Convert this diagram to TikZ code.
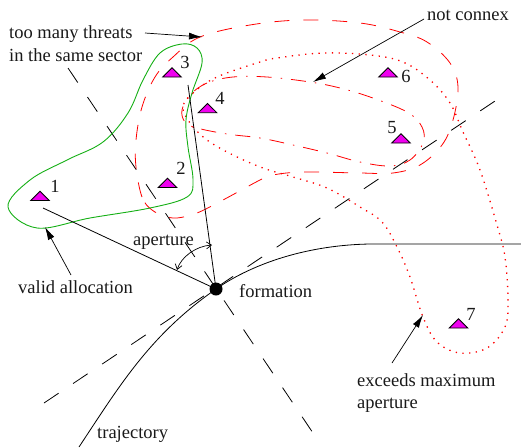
\documentclass[tikz,border=0pt]{standalone}
\usepackage{fontspec}
\setmainfont{Liberation Serif}
\usetikzlibrary{arrows.meta}
\definecolor{greenline}{RGB}{20,175,20}
\definecolor{threatfill}{RGB}{240,0,240}
\tikzset{
  lbl/.style={anchor=base west,inner sep=0pt,font=\fontsize{18.5}{21}\selectfont,text=black!90},
  num/.style={anchor=center,inner sep=0pt,font=\fontsize{18.5}{21}\selectfont,text=black!90},
  solidline/.style={draw=black,line width=0.8pt},
  sector/.style={draw=black,line width=0.8pt,dash pattern=on 17.5pt off 17.5pt},
  greenblob/.style={draw=greenline,line width=0.9pt},
  reddash/.style={draw=red,line width=0.8pt,dash pattern=on 15pt off 14pt},
  reddashdot/.style={draw=red,line width=0.8pt,dash pattern=on 15pt off 9pt on 1.5pt off 9pt},
  reddot/.style={draw=red,line width=1.3pt,dash pattern=on 1.3pt off 5.4pt},
  callout/.style={draw=black,line width=0.7pt,-{Latex[length=13pt,width=7pt]}},
  openarrow/.style={draw=black,line width=0.7pt,{Straight Barb[length=5pt,width=7pt]}-{Straight Barb[length=5pt,width=7pt]}},
  threat/.style={draw=black,fill=threatfill,line width=0.8pt,line join=miter},
}
\newcommand{\threatmark}[4]{%
  \coordinate (t#1) at (#2,#3);
  \draw[threat] (#2-9.3,#3) -- (#2,#3-9.2) -- (#2+9.3,#3) -- cycle;
  \node[num] (n#1) at #4 {#1};
}
\begin{document}
\begin{tikzpicture}[x=1pt,y=-1pt]
\useasboundingbox (0,0) rectangle (521,447);
\coordinate (S1a) at (68,68);
\coordinate (S1b) at (313,433);
\coordinate (S2a) at (44,403);
\coordinate (S2b) at (498,99);
\path[sector] (S1a) -- (S1b);
\path[sector] (S2a) -- (S2b);
% regions
\draw[reddash] plot[smooth cycle,tension=0.6] coordinates {(152,210) (142,197) (136,167) (136,140) (142,107) (155,77) (173,57) (200,37) (250,25) (303,20) (360,23) (400,32) (427,42) (450,63) (458,87) (453,120) (442,145) (420,165) (393,173) (360,173) (303,172) (273,175) (260,180) (223,200) (197,213) (177,218) (165,216)};
\draw[reddashdot] plot[smooth cycle,tension=0.6] coordinates {(233,77) (207,83) (190,95) (182,110) (185,122) (197,128) (227,134) (260,138) (293,145) (327,153) (360,162) (390,166) (410,160) (423,143) (422,127) (407,112) (370,97) (340,88) (310,82) (267,77)};
\draw[reddot] plot[smooth cycle,tension=0.6] coordinates {(217,77) (193,93) (183,107) (190,123) (207,140) (233,155) (263,168) (293,177) (327,188) (360,207) (382,222) (397,247) (410,277) (423,317) (437,342) (460,353) (487,348) (505,327) (508,300) (505,257) (497,225) (480,170) (463,132) (450,103) (430,80) (403,62) (370,55) (323,53) (277,58) (260,62)};
\draw[greenblob] plot[smooth cycle,tension=0.6] coordinates {(8,207) (37,228) (90,218) (150,208) (187,197) (193,180) (188,147) (186,120) (192,93) (202,63) (197,48) (182,44) (160,53) (143,80) (128,113) (103,142) (67,160) (30,180)};
% formation
\node[circle,fill=black,inner sep=0pt,minimum size=13pt] (formdot) at (216,289) {};
\coordinate (A1) at (43,208);
\coordinate (A3) at (188,85);
\draw[solidline] (formdot.center) -- (A1);
\draw[solidline] (formdot.center) -- (A3);
\coordinate (T0) at (79,447);
\coordinate (T1) at (521,244);
\draw[solidline] (T0) .. controls (120,385) and (150,335) .. (formdot.center) .. controls (255,262) and (310,245) .. (370,244) -- (T1);
\coordinate (ApA) at (177,270);
\coordinate (ApB) at (212,245);
\draw[openarrow] (ApA) .. controls (181,257) and (196,246) .. (ApB);
% threats
\threatmark{1}{40}{200.5}{(55,186)}
\threatmark{2}{167.5}{187.5}{(181,168)}
\threatmark{3}{172}{77}{(185,62)}
\threatmark{4}{207.5}{112.7}{(220,98)}
\threatmark{5}{401}{143}{(392,128)}
\threatmark{6}{388}{77}{(406,76)}
\threatmark{7}{458.5}{328}{(471,314)}
% labels
\node[lbl] (many) at (9,38) {too many threats};
\node[lbl] (sector) at (9,61) {in the same sector};
\node[lbl] (connex) at (427,20) {not connex};
\node[lbl] (valid) at (18,293) {valid allocation};
\node[lbl] (aper) at (133,245) {aperture};
\node[lbl] (form) at (239,297) {formation};
\node[lbl] (traj) at (97,438) {trajectory};
\node[lbl] (exceeds) at (357,386) {exceeds maximum};
\node[lbl] (aper2) at (357,408) {aperture};
% callouts
\coordinate (c1a) at (145,33);  \coordinate (c1b) at (202,37);
\coordinate (c2a) at (424,19);  \coordinate (c2b) at (313,82);
\coordinate (c3a) at (71,275);  \coordinate (c3b) at (45,227);
\coordinate (c4a) at (392,363); \coordinate (c4b) at (423,315);
\draw[callout] (c1a) -- (c1b);
\draw[callout] (c2a) -- (c2b);
\draw[callout] (c3a) -- (c3b);
\draw[callout] (c4a) -- (c4b);
\end{tikzpicture}
\end{document}
